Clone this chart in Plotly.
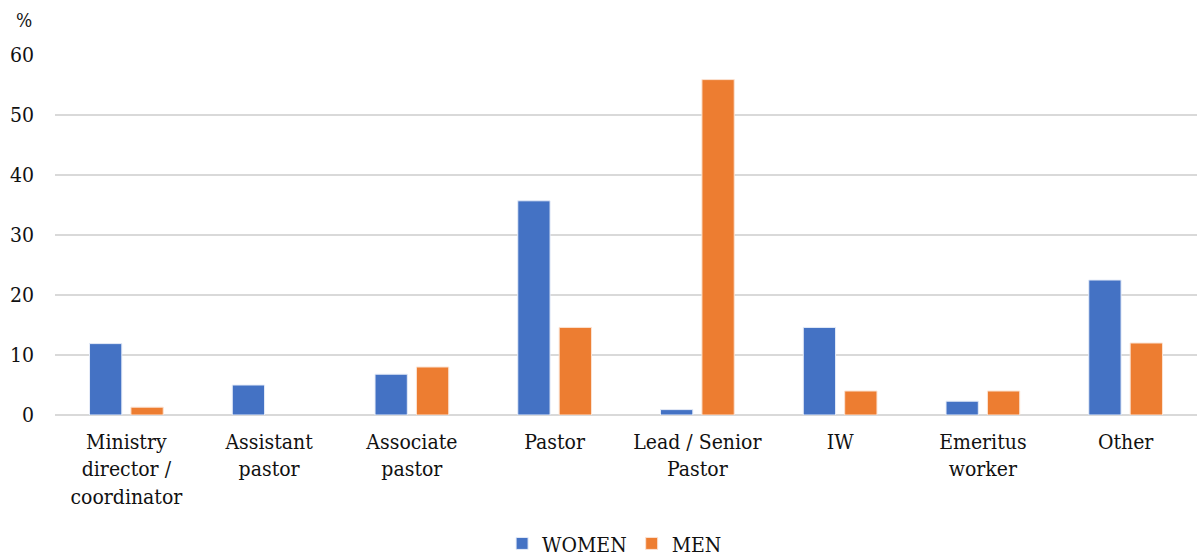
import plotly.graph_objects as go

categories = [
    "Ministry<br>director /<br>coordinator",
    "Assistant<br>pastor",
    "Associate<br>pastor",
    "Pastor",
    "Lead / Senior<br>Pastor",
    "IW",
    "Emeritus<br>worker",
    "Other",
]
women = [11.9, 5.0, 6.8, 35.7, 0.9, 14.6, 2.3, 22.5]
men = [1.3, 0.0, 8.0, 14.6, 55.9, 4.0, 4.0, 12.0]

FONT = "'DejaVu Serif Condensed', 'DejaVu Serif', serif"
SIZE = 21


def edge_widths(values):
    # no outline on empty bars so they don't leave a sliver on the baseline
    return [0 if v == 0 else 1 for v in values]


fig = go.Figure()
fig.add_trace(go.Bar(
    name="WOMEN", x=categories, y=women,
    marker=dict(color="#4472C4", line=dict(color="#E6ECF8", width=edge_widths(women))),
))
fig.add_trace(go.Bar(
    name="MEN", x=categories, y=men,
    marker=dict(color="#ED7D31", line=dict(color="#FBE3D3", width=edge_widths(men))),
))

fig.update_layout(
    width=1197, height=556,
    margin=dict(l=55, r=0, t=55, b=141, autoexpand=False),
    plot_bgcolor="white", paper_bgcolor="white",
    barmode="group", bargap=0.42, bargroupgap=0.22,
    font=dict(family=FONT, size=SIZE, color="#111111"),
    showlegend=True,
    legend=dict(
        orientation="h", x=0.49, xanchor="center",
        yref="container", y=0.022, yanchor="middle",
        font=dict(family=FONT, size=SIZE), itemwidth=30,
        traceorder="normal",
    ),
    xaxis=dict(
        showgrid=False, showline=False, ticks="", automargin=False,
        ticklabelstandoff=12,
        tickfont=dict(family=FONT, size=SIZE),
    ),
    yaxis=dict(
        range=[0, 60], dtick=10, showgrid=True, gridcolor="#D9D9D9", gridwidth=1.5,
        zeroline=True, zerolinecolor="#D9D9D9", zerolinewidth=1.5,
        showline=False, ticks="", ticklabelstandoff=20, automargin=False,
        tickfont=dict(family=FONT, size=SIZE),
    ),
    annotations=[dict(
        text="%", xref="paper", yref="paper", x=-0.036, y=1.0, yshift=35,
        xanchor="left", yanchor="middle", showarrow=False,
        font=dict(family=FONT, size=19),
    )],
)

fig.write_html("out.html")
